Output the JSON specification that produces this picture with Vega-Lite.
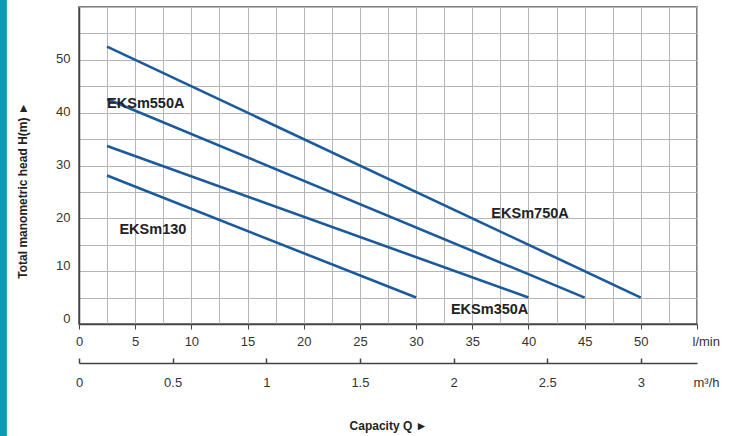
{
  "$schema": "https://vega.github.io/schema/vega-lite/v6.json",
  "width": 618,
  "height": 317,
  "autosize": "none",
  "padding": {"left": 79, "top": 7, "right": 42, "bottom": 112},
  "background": "white",
  "config": {
    "font": "Liberation Sans",
    "view": {"stroke": "#555555", "strokeWidth": 1.5}
  },
  "datasets": {
    "curves": [
      {"model": "EKSm750A", "q": 2.5, "h": 52.5},
      {"model": "EKSm750A", "q": 50, "h": 5},
      {"model": "EKSm550A", "q": 2.5, "h": 42.6},
      {"model": "EKSm550A", "q": 45, "h": 5},
      {"model": "EKSm350A", "q": 2.5, "h": 33.7},
      {"model": "EKSm350A", "q": 40, "h": 5},
      {"model": "EKSm130", "q": 2.5, "h": 28.1},
      {"model": "EKSm130", "q": 30, "h": 5}
    ],
    "labels": [
      {"name": "EKSm550A", "q": 2.5, "h": 41.7},
      {"name": "EKSm130", "q": 3.6, "h": 17.7},
      {"name": "EKSm750A", "q": 36.7, "h": 20.9},
      {"name": "EKSm350A", "q": 33.1, "h": 2.6}
    ],
    "m3h": [{"m3h": 0}, {"m3h": 3.3}],
    "strip": [{"part": "frame"}]
  },
  "layer": [
    {
      "data": {"name": "strip"},
      "mark": {"type": "rect", "fill": "#0a9cb7", "clip": false},
      "encoding": {
        "x": {"datum": -7.05, "type": "quantitative", "scale": {"domain": [0, 55], "nice": false, "zero": false}, "axis": null},
        "x2": {"datum": -6.42},
        "y": {"datum": 61.4, "type": "quantitative", "scale": {"domain": [0, 60], "nice": false, "zero": false}, "axis": null},
        "y2": {"datum": -21.3}
      }
    },
    {
      "encoding": {
        "x": {
          "field": "q",
          "type": "quantitative",
          "scale": {"domain": [0, 55], "nice": false, "zero": false},
          "axis": {
            "orient": "bottom",
            "title": null,
            "values": [0, 2.5, 5, 7.5, 10, 12.5, 15, 17.5, 20, 22.5, 25, 27.5, 30, 32.5, 35, 37.5, 40, 42.5, 45, 47.5, 50, 52.5, 55],
            "labelExpr": "datum.value == 55 ? 'l/min' : (datum.value % 5 == 0 ? datum.label : '')",
            "labelAlign": {"condition": {"test": "datum.value == 55", "value": "left"}, "value": "center"},
            "labelOffset": {"condition": {"test": "datum.value == 55", "value": -5}, "value": 0},
            "labelFontSize": 13,
            "labelColor": "#333333",
            "labelPadding": 6,
            "labelFlush": false,
            "labelOverlap": false,
            "tickSize": 5,
            "tickColor": "#444444",
            "tickOpacity": {"condition": {"test": "datum.value % 5 != 0", "value": 0}, "value": 1},
            "domainColor": "#444444",
            "domainWidth": 1.5,
            "grid": true,
            "gridColor": "#b5b5b5",
            "gridWidth": 1
          }
        },
        "y": {
          "field": "h",
          "type": "quantitative",
          "scale": {"domain": [0, 60], "nice": false, "zero": false},
          "axis": {
            "orient": "left",
            "title": "Total manometric head H(m)  ►",
            "titleFontSize": 12,
            "titleFontWeight": "bold",
            "titleColor": "#222222",
            "titleX": -57,
            "titleY": 183,
            "titleAngle": -90,
            "titleAlign": "center",
            "titleBaseline": "middle",
            "values": [0, 5, 10, 15, 20, 25, 30, 35, 40, 45, 50, 55, 60],
            "labelExpr": "datum.value % 10 == 0 && datum.value < 60 ? datum.label : ''",
            "labelOffset": {"condition": {"test": "datum.value <= 10", "value": -6}, "value": -1},
            "labelFontSize": 13,
            "labelColor": "#333333",
            "labelPadding": 9,
            "ticks": false,
            "domainColor": "#444444",
            "domainWidth": 1.5,
            "grid": true,
            "gridColor": "#b5b5b5",
            "gridWidth": 1
          }
        }
      },
      "layer": [
        {
          "data": {"name": "curves"},
          "mark": {"type": "line", "color": "#1b5a9c", "strokeWidth": 2.6},
          "encoding": {
            "detail": {"field": "model", "type": "nominal"}
          }
        },
        {
          "data": {"name": "labels"},
          "mark": {"type": "text", "align": "left", "baseline": "middle", "fontSize": 14.5, "fontWeight": "bold", "color": "#222222"},
          "encoding": {
            "text": {"field": "name", "type": "nominal"}
          }
        }
      ]
    },
    {
      "data": {"name": "m3h"},
      "mark": {"type": "point", "opacity": 0},
      "encoding": {
        "x": {
          "field": "m3h",
          "type": "quantitative",
          "scale": {"domain": [0, 3.3], "nice": false, "zero": false},
          "axis": {
            "orient": "bottom",
            "offset": 39,
            "values": [0, 0.5, 1, 1.5, 2, 2.5, 3, 3.3],
            "labelExpr": "datum.value == 3.3 ? 'm³/h' : format(datum.value, '~g')",
            "labelAlign": {"condition": {"test": "datum.value == 3.3", "value": "left"}, "value": "center"},
            "labelOffset": {"condition": {"test": "datum.value == 3.3", "value": -4}, "value": 0},
            "labelFontSize": 13,
            "labelColor": "#333333",
            "labelPadding": 18,
            "labelFlush": false,
            "labelOverlap": false,
            "tickSize": -5,
            "tickColor": "#444444",
            "tickWidth": 1.5,
            "tickOpacity": {"condition": {"test": "datum.value == 3.3", "value": 0}, "value": 1},
            "domainColor": "#444444",
            "domainWidth": 1.5,
            "grid": false,
            "title": "Capacity Q  ►",
            "titleFontSize": 12,
            "titleFontWeight": "bold",
            "titleColor": "#222222",
            "titlePadding": 31
          }
        }
      }
    }
  ],
  "resolve": {"scale": {"x": "independent", "y": "independent"}, "axis": {"x": "independent", "y": "independent"}}
}
